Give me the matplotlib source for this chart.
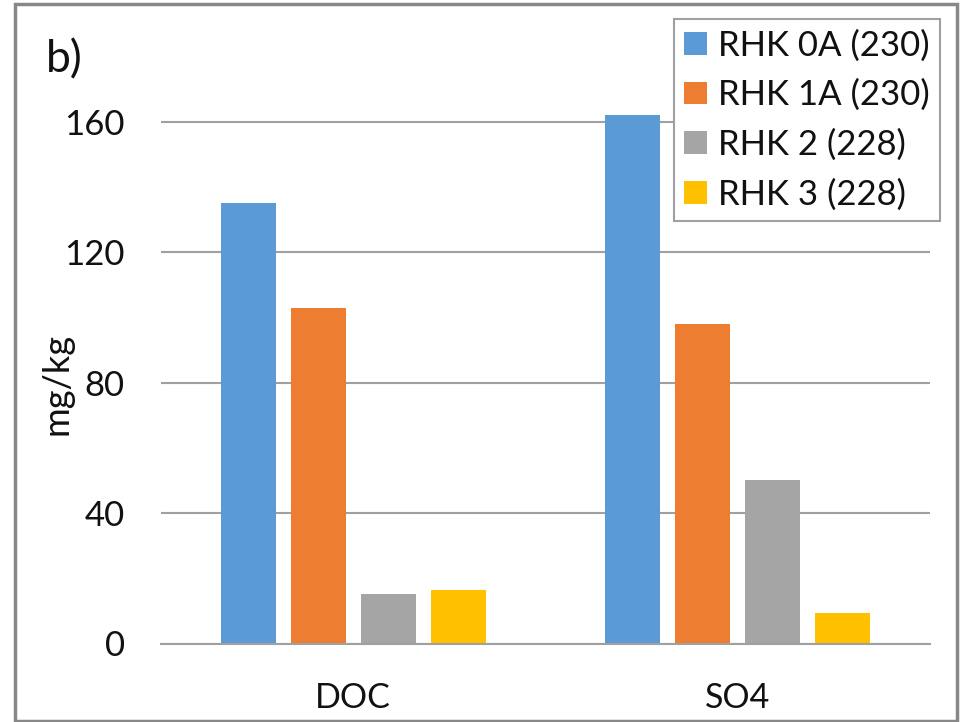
import matplotlib
matplotlib.use("Agg")
import matplotlib.pyplot as plt
from matplotlib.patches import Rectangle
import numpy as np

plt.rcParams['font.family'] = ['Lato', 'DejaVu Sans']

categories = ["DOC", "SO4"]
series_names = ["RHK 0A (230)", "RHK 1A (230)", "RHK 2 (228)", "RHK 3 (228)"]
series_values = [
    [135, 162],   # RHK 0A
    [103, 98],    # RHK 1A
    [15.3, 50],   # RHK 2
    [16.3, 9.4],  # RHK 3
]
colors = ["#5B9BD5", "#ED7D31", "#A5A5A5", "#FFC000"]
yticks = [0, 40, 80, 120, 160]

W, H = 961, 722
fig = plt.figure(figsize=(W / 100, H / 100), dpi=100)

# plot area in pixel terms
left, right = 161, 930
y0 = 643.5
px_per_unit = 3.261
ymax = 175
top = y0 - ymax * px_per_unit
ax = fig.add_axes([left / W, 1 - y0 / H, (right - left) / W, (y0 - top) / H])

x = np.arange(len(categories))
bar_w = 55 / 384.5
step = 70 / 384.5
offsets = (np.arange(len(series_names)) - 1.5) * step
for i, (name, vals, c) in enumerate(zip(series_names, series_values, colors)):
    ax.bar(x + offsets[i], vals, width=bar_w, color=c, label=name, zorder=3)

ax.set_xlim(-0.5, 1.5)
ax.set_ylim(0, ymax)
ax.set_yticks(yticks)
ax.set_xticks(x)
ax.set_xticklabels(categories)
for s in ["top", "right", "left"]:
    ax.spines[s].set_visible(False)
ax.spines["bottom"].set_color("#A0A0A0")
ax.spines["bottom"].set_linewidth(1.5)
ax.spines["bottom"].set_zorder(4)
ax.yaxis.grid(True, color="#A0A0A0", linewidth=1.5, zorder=0)
ax.tick_params(axis="y", length=0, pad=26, labelsize=25, labelcolor="#111111")
ax.tick_params(axis="x", length=0, pad=28, labelsize=24.5, labelcolor="#111111")

fig.text(57 / W, 1 - 384 / H, "mg/kg", rotation=90, ha="center", va="center",
         fontsize=26, color="#111111")
fig.text(46 / W, 1 - 72 / H, "b)", ha="left", va="baseline", fontsize=32,
         color="#111111")

leg = ax.legend(loc="upper left", bbox_to_anchor=(674 / W, 1 - 19 / H),
                bbox_transform=fig.transFigure, fontsize=25, frameon=True,
                fancybox=False, edgecolor="#A0A0A0", framealpha=1,
                handlelength=0.65, handleheight=0.62, handletextpad=0.32,
                labelspacing=0.5, borderpad=0.3, borderaxespad=0)
leg.get_frame().set_linewidth(1.5)
for t in leg.get_texts():
    t.set_color("#111111")

# outer frame around the figure
fig.patches.append(Rectangle((15 / W, 1 - 721 / H), 942 / W, 717 / H,
                             transform=fig.transFigure, fill=False,
                             edgecolor="#888888", linewidth=2.5))

fig.savefig("out.png", dpi=100)
